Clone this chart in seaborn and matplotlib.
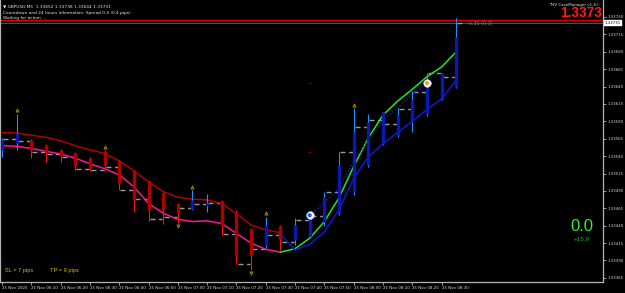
import numpy as np
import pandas as pd
import matplotlib
matplotlib.use("Agg")
import matplotlib.pyplot as plt
import matplotlib.transforms as mtransforms
import seaborn as sns

# ---------------- data ----------------
time_labels = ["25 Nov 2020", "25 Nov 06:10", "25 Nov 06:20", "25 Nov 06:30",
               "25 Nov 06:40", "25 Nov 06:50", "25 Nov 07:00", "25 Nov 07:10",
               "25 Nov 07:20", "25 Nov 07:30", "25 Nov 07:40", "25 Nov 07:50",
               "25 Nov 08:00", "25 Nov 08:10", "25 Nov 08:20", "25 Nov 08:30"]

opens  = [1.33549, 1.33559, 1.33563, 1.33556, 1.33549, 1.33544, 1.33537, 1.33547,
          1.33533, 1.33519, 1.33504, 1.33487, 1.33471, 1.33464, 1.33468, 1.33476,
          1.33460, 1.33435, 1.33412, 1.33440, 1.33419, 1.33425, 1.33445, 1.33458,
          1.33488, 1.33527, 1.33557, 1.33570, 1.33589, 1.33601, 1.33622, 1.33640]
highs  = [1.33566, 1.33601, 1.33564, 1.33557, 1.33550, 1.33546, 1.33539, 1.33549,
          1.33534, 1.33520, 1.33506, 1.33489, 1.33473, 1.33491, 1.33485, 1.33477,
          1.33462, 1.33437, 1.33453, 1.33441, 1.33451, 1.33455, 1.33489, 1.33546,
          1.33609, 1.33600, 1.33604, 1.33609, 1.33633, 1.33659, 1.33660, 1.33738]
lows   = [1.33539, 1.33549, 1.33537, 1.33532, 1.33532, 1.33520, 1.33518, 1.33518,
          1.33491, 1.33460, 1.33447, 1.33443, 1.33444, 1.33463, 1.33460, 1.33427,
          1.33385, 1.33376, 1.33408, 1.33405, 1.33412, 1.33424, 1.33439, 1.33455,
          1.33484, 1.33525, 1.33556, 1.33568, 1.33575, 1.33598, 1.33621, 1.33638]
closes = [1.33563, 1.33573, 1.33549, 1.33546, 1.33540, 1.33526, 1.33523, 1.33527,
          1.33501, 1.33477, 1.33463, 1.33463, 1.33458, 1.33477, 1.33473, 1.33441,
          1.33398, 1.33398, 1.33441, 1.33419, 1.33441, 1.33454, 1.33481, 1.33527,
          1.33575, 1.33589, 1.33603, 1.33599, 1.33621, 1.33646, 1.33659, 1.33711]
close_ticks = [1.33565, 1.33561, 1.33546, 1.33543, 1.33539, 1.33522, 1.33520, 1.33525,
               1.33491, 1.33479, 1.33449, 1.33452, 1.33466, 1.33471, 1.33472, 1.33428,
               1.33385, 1.33407, 1.33426, 1.33417, 1.33448, 1.33454, 1.33489, 1.33546,
               1.33582, 1.33592, 1.33586, 1.33608, 1.33632, 1.33660, 1.33653, 1.33731]

# down-trend envelope (bars 0..19)
upper_red  = [1.33574, 1.33573, 1.33570, 1.33567, 1.33562, 1.33555, 1.33549, 1.33544,
              1.33533, 1.33519, 1.33503, 1.33489, 1.33481, 1.33478, 1.33477, 1.33472,
              1.33457, 1.33441, 1.33434, 1.33430]
lower_pink = [1.33555, 1.33554, 1.33551, 1.33547, 1.33543, 1.33537, 1.33529, 1.33522,
              1.33513, 1.33496, 1.33472, 1.33458, 1.33449, 1.33446, 1.33447, 1.33443,
              1.33429, 1.33415, 1.33406, 1.33402]
# up-trend envelope (bars 19..31)
upper_green = [1.33402, 1.33407, 1.33422, 1.33446, 1.33480, 1.33525, 1.33566, 1.33599,
               1.33619, 1.33636, 1.33654, 1.33668, 1.33690]
lower_blue  = [1.33428, 1.33405, 1.33413, 1.33431, 1.33463, 1.33508, 1.33539, 1.33558,
               1.33574, 1.33590, 1.33607, 1.33622, 1.33649]

fractal_up = [1, 7, 13, 18, 24]
fractal_down = [12, 17]
entry_bars = [21, 29]
entry_prices = [1.33455, 1.33645]
path_bars = [21, 22, 23, 24, 25, 26, 27, 28, 29]
path_prices = [1.33455, 1.33473, 1.33494, 1.33532, 1.33563, 1.33592, 1.33609, 1.33629, 1.33645]
mark_bar = 21
mark_prices = [1.33546, 1.33645]

price_ticks = [1.33365, 1.33390, 1.33415, 1.33440, 1.33465, 1.33490, 1.33515, 1.33540,
               1.33565, 1.33590, 1.33615, 1.33640, 1.33665, 1.33690, 1.33715, 1.33740]
bid_price = 1.33731
ask_price = 1.33735

# ---------------- figure ----------------
sns.set_theme(style="dark")
plt.rcParams["font.family"] = ["DejaVu Sans"]
plt.rcParams["axes.facecolor"] = "black"
plt.rcParams["figure.facecolor"] = "black"

W, H = 625, 293
fig = plt.figure(figsize=(W / 100, H / 100), dpi=100)
ax = fig.add_axes([0, (H - 282) / H, 603 / W, 282 / H])
ax.set_facecolor("black")
ax.grid(False)

bars = np.arange(len(opens))
o = np.array(opens); c = np.array(closes); hi = np.array(highs); lo = np.array(lows)
bull = c >= o

# grey close ticks (dashed)
ct = np.array(close_ticks)
ax.hlines(ct[:-1], bars[:-1] + 0.08, bars[:-1] + 0.93, colors="#9a9a9a",
          linestyles=(0, (3.6, 2.6)), lw=1.0, zorder=2)
ax.hlines(ct[-1:], bars[-1:] + 0.08, bars[-1:] + 0.4, colors="#9a9a9a", lw=1.0, zorder=2)

# envelopes
sns.lineplot(x=list(range(0, 20)), y=upper_red, color="#b00000", lw=1.1, ax=ax,
             legend=False, estimator=None, sort=False, zorder=3)
sns.lineplot(x=list(range(0, 20)), y=lower_pink, color="#ff1493", lw=1.1, ax=ax,
             legend=False, estimator=None, sort=False, zorder=3)
sns.lineplot(x=list(range(19, 32)), y=upper_green, color="#22e622", lw=1.1, ax=ax,
             legend=False, estimator=None, sort=False, zorder=3)
sns.lineplot(x=list(range(19, 32)), y=lower_blue, color="#1414c8", lw=1.2, ax=ax,
             legend=False, estimator=None, sort=False, zorder=3)

# dotted trade path
ax.plot(path_bars, path_prices, color="#1a2ad0", lw=0.9, ls=(0, (1, 1.6)), zorder=3)

# candles
wick_col = np.where(bull, "#1e90ff", "#ff1010")
body_col = np.where(bull, "#0c18b4", "#b00000")
ax.vlines(bars, lo, hi, colors=wick_col, lw=0.8, zorder=4)
ax.vlines(bars, np.minimum(o, c), np.maximum(o, c), colors=body_col, lw=2.4, zorder=5)

# fractal markers
dpi_t = fig.dpi_scale_trans
up_t = ax.transData + mtransforms.ScaledTranslation(0, 3.2 / 100, dpi_t)
dn_t = ax.transData + mtransforms.ScaledTranslation(0, -3.2 / 100, dpi_t)
ax.scatter(fractal_up, [highs[i] for i in fractal_up], marker="^", s=5,
           facecolors="#3a3000", edgecolors="#a89200", linewidths=0.6, transform=up_t, zorder=6)
ax.scatter(fractal_down, [lows[i] for i in fractal_down], marker="v", s=5,
           facecolors="#3a3000", edgecolors="#a89200", linewidths=0.6, transform=dn_t, zorder=6)

# small level marks
ax.hlines(mark_prices, mark_bar - 0.12, mark_bar + 0.12, colors=["#8b0000", "#1010a0"],
          lw=1.0, zorder=3)

# entry circles
ax.scatter(entry_bars, entry_prices, s=30, color="white", edgecolors="#d8d8ff",
           linewidths=0.4, zorder=7)
ax.scatter(entry_bars, entry_prices, s=4, color=["#1e60ff", "#ff9a1e"], zorder=8)

# bid / ask lines
ax.axhline(ask_price, color="#e00000", lw=1.0, zorder=1)
ax.axhline(bid_price, color="#505050", lw=0.7, zorder=1)

# axes limits
ax.set_xlim(-0.1365, 41.02)
ax.set_ylim(1.333591, 1.337643)

# ticks
ax.yaxis.tick_right()
ax.set_yticks(price_ticks)
ax.set_yticklabels([f"{p:.5f}" for p in price_ticks])
ax.set_xticks(list(range(0, 32, 2)))
ax.set_xticklabels(time_labels)
ax.tick_params(axis="y", which="both", right=True, left=False, length=2, width=0.6,
               color="#b0b0b0", labelsize=2.8, labelcolor="#d8d8d8", pad=1.0)
ax.tick_params(axis="x", which="both", bottom=True, length=2, width=0.6,
               color="#b0b0b0", labelsize=2.9, labelcolor="#d8d8d8", pad=0.6)
for lab in ax.get_xticklabels():
    lab.set_horizontalalignment("left")

for side in ["left", "bottom", "right"]:
    ax.spines[side].set_visible(True)
    ax.spines[side].set_color("#b4b4b4")
    ax.spines[side].set_linewidth(0.9)
ax.spines["top"].set_visible(False)

# current price box on the scale
yx = mtransforms.blended_transform_factory(ax.transAxes, ax.transData)
ax.text(1.003, bid_price, f"{bid_price:.5f}", transform=yx, fontsize=2.8, color="black",
        ha="left", va="center", zorder=9, clip_on=False,
        bbox=dict(boxstyle="square,pad=0.25", fc="white", ec="white", lw=0.3))

# label right of last bar
ax.text(31.72, bid_price, "-0.30 (0.3)", fontsize=3.5, color="#8a8a8a",
        ha="left", va="center", zorder=6)

# ---------------- overlay texts ----------------
def px(x, y):
    return x / W, 1 - y / H

fig.text(*px(3, 7.4), "\u25bc GBPUSD,M5  1.33652 1.33738 1.33644 1.33731", fontsize=3.1,
         color="#e6e6e6", ha="left", va="baseline")
fig.text(*px(3, 14.0), "Countdown and 24 hours information: Spread 0.4 (0.4 pips)", fontsize=3.1,
         color="#e6e6e6", ha="left", va="baseline")
fig.text(*px(3, 19.2), "Waiting for action ...", fontsize=3.1,
         color="#e6e6e6", ha="left", va="baseline")
fig.text(*px(600, 5.6), "THV CaseManager v1.4\u00a9", fontsize=2.9,
         color="#e6e6e6", ha="right", va="baseline")
fig.text(*px(602, 17.4), "1.3373", fontsize=9.8, fontweight="bold",
         family=["Liberation Sans", "DejaVu Sans"], color="#ff1a1a", ha="right", va="baseline")
fig.text(*px(5, 272.2), "SL = 7 pips", fontsize=4.1, color="#d2c000",
         family=["Liberation Sans", "DejaVu Sans"], ha="left", va="baseline")
fig.text(*px(50, 272.2), "TP = 9 pips", fontsize=4.1, color="#d2c000",
         family=["Liberation Sans", "DejaVu Sans"], ha="left", va="baseline")
fig.text(*px(582, 230.7), "0.0", fontsize=12, color="#33ee33",
         family=["Liberation Sans", "DejaVu Sans"], ha="center", va="baseline")
fig.text(*px(582, 240.6), "+15.9", fontsize=4.5, color="#22b822",
         family=["Liberation Sans", "DejaVu Sans"], ha="center", va="baseline")

fig.savefig("out.png", dpi=100, facecolor="black")
